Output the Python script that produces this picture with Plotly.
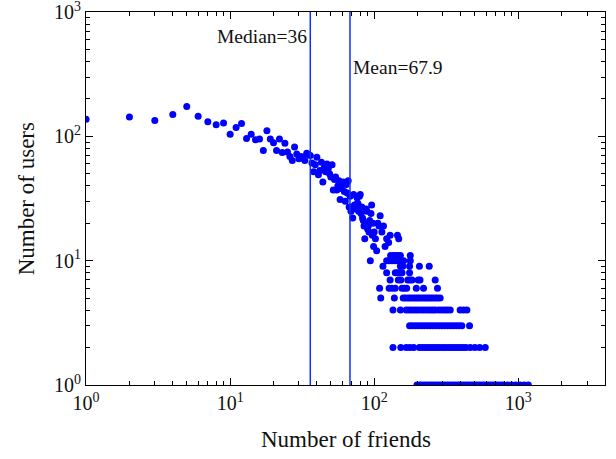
import math
import plotly.graph_objects as go

# ---- data ----
median_friends = 36
mean_friends = 67.9

# upper part of the distribution (one point per friend count)
friends_main = [1, 2, 3, 4, 5, 6, 7, 8, 9, 10, 11, 12, 13, 14, 15, 16, 17, 18, 19, 20,
                21, 22, 23, 24, 25, 26, 27, 28, 29, 30, 31, 32, 33, 34, 35, 36, 37, 38, 39, 40,
                41, 42, 43, 44, 45, 46, 47, 48, 49, 50, 51, 52, 53, 54, 55, 56, 57, 58, 59, 60,
                61, 62, 63, 64, 65, 66, 67, 68, 69, 70, 71, 72, 73, 74, 75, 76, 77, 78, 79, 80,
                81, 82, 83, 84, 85, 86, 87, 88, 89, 90, 91, 92, 93, 95, 96, 97, 98, 99, 100,
                102, 104, 106, 108, 110, 113, 116, 119, 122, 126, 129, 145, 148]
users_main = [137, 143, 134, 150, 174, 145, 131, 124, 128, 104, 118, 127, 96, 104, 94, 95, 77, 111, 95, 89,
              77, 95, 74, 88, 75, 69, 64, 82, 72, 66, 69, 67, 64, 73, 71, 70, 61, 52, 59, 68,
              49, 53, 62, 43, 56, 52, 60, 55, 50, 47, 59, 37, 45, 47, 37, 40, 44, 31, 38, 41,
              43, 36, 30, 41, 35, 44, 27, 33, 25, 27, 22, 34, 28, 28, 26, 32, 29, 25, 33, 34,
              24, 27, 22, 21, 19, 15, 20, 26, 25, 18, 19, 17, 21, 24, 28, 16, 20, 13, 17,
              15, 12, 20, 19, 23, 17, 19, 13, 15, 14, 16, 16, 15]

# low-count rows (friend counts that share the same number of users)
friends_11 = [130, 135, 140, 146, 152, 178]
friends_10 = [94, 122, 127, 133, 139, 145, 152, 160, 178]
friends_9 = [115, 152, 158, 176, 206, 241]
friends_8 = [122, 140, 145, 150, 156, 176]
friends_7 = [129, 147, 153, 171, 177, 183, 202, 208, 265]
friends_6 = [109, 127, 133, 140, 156, 162, 168, 196, 220, 275]
friends_5 = [111, 138, 159, 165, 172, 178, 185, 192, 199, 206, 214, 222, 230, 238, 247,
             256, 266, 276, 287]
friends_4 = [135, 152, 167, 175, 183, 192, 201, 211, 221, 232, 243, 254, 265, 280, 294,
             308, 322, 337, 395, 417, 440]
friends_3 = [176, 184, 193, 202, 212, 222, 233, 244, 256, 268, 281, 294, 308, 323, 338,
             354, 371, 388, 406, 459]
friends_2 = [135, 153, 167, 177, 188, 206, 216, 226, 237, 248, 260, 272, 285, 299, 313,
             328, 344, 360, 377, 395, 414, 433, 464, 500, 540, 590]
friends_1 = [198, 206, 214, 223, 232, 242, 252, 262, 273, 284, 296, 308, 321, 334, 348,
             362, 377, 392, 408, 425, 442, 460, 479, 499, 519, 540, 562, 585, 609, 634,
             660, 687, 715, 750, 787, 840, 900, 960, 1030, 1100, 1175]

rows = [(11, friends_11), (10, friends_10), (9, friends_9), (8, friends_8), (7, friends_7),
        (6, friends_6), (5, friends_5), (4, friends_4), (3, friends_3), (2, friends_2),
        (1, friends_1)]

x_all = list(friends_main)
y_all = list(users_main)
for cnt, fr in rows:
    x_all += fr
    y_all += [cnt] * len(fr)

major_exp_x = [0, 1, 2, 3]
major_exp_y = [0, 1, 2, 3]

BLUE = "#0000ff"
FONT = "Liberation Serif, Times New Roman, serif"

fig = go.Figure()
fig.add_trace(go.Scatter(x=x_all, y=y_all, mode="markers",
                         marker=dict(color=BLUE, size=7, line=dict(width=0)),
                         showlegend=False, hoverinfo="x+y"))
for v in (median_friends, mean_friends):
    fig.add_trace(go.Scatter(x=[v, v], y=[1, 1000], mode="lines",
                             line=dict(color="#1030ff", width=1.5),
                             showlegend=False, hoverinfo="skip"))

minor_x = [m * 10 ** e for e in range(0, 4) for m in range(2, 10) if m * 10 ** e < 4000]
minor_y = [m * 10 ** e for e in range(0, 3) for m in range(2, 10)]

axis_common = dict(type="log", showline=True, linecolor="black", linewidth=1.2,
                   mirror="allticks", ticks="inside", ticklen=7, tickwidth=1,
                   tickcolor="black", showgrid=False, zeroline=False, automargin=False,
                   ticklabeloverflow="allow",
                   tickfont=dict(family=FONT, size=20, color="#111"))

fig.update_xaxes(**axis_common, range=[-0.0005, math.log10(4000)], tickmode="array",
                 tickvals=[10 ** e for e in major_exp_x],
                 ticktext=[f"10<sup>{e}</sup>" for e in major_exp_x],
                 minor=dict(tickmode="array", tickvals=minor_x, ticks="inside",
                            ticklen=4, tickcolor="black", showgrid=False))
fig.update_yaxes(**axis_common, range=[-0.0005, 3.0005], tickmode="array",
                 tickvals=[10 ** e for e in major_exp_y],
                 ticktext=[f"10<sup>{e}</sup>" for e in major_exp_y],
                 minor=dict(tickmode="array", tickvals=minor_y, ticks="inside",
                            ticklen=4, tickcolor="black", showgrid=False))

# axis titles
fig.add_annotation(x=0.5, y=-0.147, xref="paper", yref="paper", yanchor="middle",
                   text="Number of friends", showarrow=False,
                   font=dict(family=FONT, size=23, color="#111"))
fig.add_annotation(x=-0.114, y=0.5, xref="paper", yref="paper", xanchor="center",
                   text="Number of users", showarrow=False, textangle=-90,
                   font=dict(family=FONT, size=23, color="#111"))

fig.add_annotation(x=math.log10(median_friends), y=0.933, xref="x", yref="paper",
                   text=f"Median={median_friends}", showarrow=False,
                   xanchor="right", yanchor="middle", xshift=-1,
                   font=dict(family=FONT, size=19.5, color="#111"))
fig.add_annotation(x=math.log10(mean_friends), y=0.85, xref="x", yref="paper",
                   text=f"Mean={mean_friends}", showarrow=False,
                   xanchor="left", yanchor="middle", xshift=1,
                   font=dict(family=FONT, size=19.5, color="#111"))

fig.update_layout(width=616, height=459, plot_bgcolor="white", paper_bgcolor="white",
                  margin=dict(l=86, r=11, t=12, b=74))

# remove the browser's default body margin so the figure fills the window
fig.write_html("out.html", config={"displayModeBar": False},
               post_script="document.body.style.margin='0px';document.body.style.overflow='hidden';")
